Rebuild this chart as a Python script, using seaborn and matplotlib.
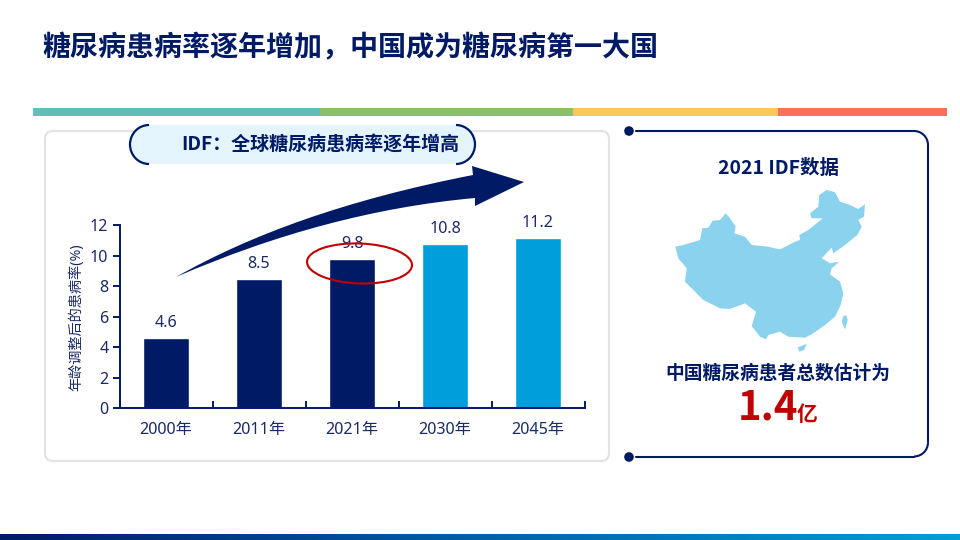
import numpy as np
import pandas as pd
import matplotlib
matplotlib.use('Agg')
import matplotlib.pyplot as plt
import seaborn as sns
from matplotlib.patches import FancyBboxPatch, Ellipse, Polygon, PathPatch, Circle, Rectangle, Arc
from matplotlib.path import Path

# 数据
years = ['2000年', '2011年', '2021年', '2030年', '2045年']
rates = [4.6, 8.5, 9.8, 10.8, 11.2]
bar_colors = ['#001A66', '#001A66', '#001A66', '#009FDB', '#009FDB']
y_ticks = [0, 2, 4, 6, 8, 10, 12]

NAVY = '#001A66'
TEXT_BLUE = '#1A2A66'
RED = '#C00000'
BOLD_FONT = ['Noto Sans CJK SC', 'DejaVu Sans']

sns.set_theme(style='white')
plt.rcParams['font.family'] = ['Noto Sans', 'Noto Sans CJK SC', 'DejaVu Sans']

fig = plt.figure(figsize=(9.6, 5.4), dpi=100)
W, H = 960, 540


def px_rect(left, top, right, bottom):
    return [left / W, 1 - bottom / H, (right - left) / W, (bottom - top) / H]


# 柱状图
ax = fig.add_axes(px_rect(119.5, 225.5, 584.5, 408))
df = pd.DataFrame({'year': years, 'rate': rates})
sns.barplot(data=df, x='year', y='rate', hue='year', palette=bar_colors,
            legend=False, width=0.505, saturation=1, ax=ax)
ax.set_xlim(-0.5, 4.5)
ax.set_ylim(0, 12)
ax.set_facecolor('none')
ax.set_xlabel('')
ax.set_ylabel('年龄调整后的患病率(%)', fontsize=10.2, color=TEXT_BLUE, labelpad=4)
sns.despine(ax=ax)
for side in ['left', 'bottom']:
    ax.spines[side].set_color(NAVY)
    ax.spines[side].set_linewidth(1.4)
ax.set_yticks(y_ticks)
ax.tick_params(axis='y', length=5, width=1.4, color=NAVY, left=True,
               labelsize=11.6, labelcolor=TEXT_BLUE, pad=3)
# x 轴主刻度在柱子之间，标签放在次刻度上
ax.set_xticks(np.arange(len(years) + 1) - 0.5)
ax.set_xticklabels([])
ax.set_xticks(np.arange(len(years)), minor=True)
ax.set_xticklabels(years, minor=True)
ax.tick_params(axis='x', which='major', direction='in', length=5, width=1.4, color=NAVY, bottom=True)
ax.tick_params(axis='x', which='minor', length=0, labelsize=11.6, labelcolor=TEXT_BLUE, pad=10)
for c in ax.containers:
    ax.bar_label(c, fmt='%.1f', padding=5, fontsize=11.6, color=TEXT_BLUE)

# 装饰层，用像素坐标
deco = fig.add_axes([0, 0, 1, 1], zorder=5)
deco.axis('off')
deco.patch.set_alpha(0)

# 顶部彩条
for x0, x1, col in [(33, 320, '#65BDBA'), (320, 573, '#8CC06A'),
                    (573, 778, '#FBC75B'), (778, 947, '#F96F5B')]:
    deco.add_patch(Rectangle((x0, 108), x1 - x0, 8, fc=col, ec='none'))

# 底部渐变条
grad = np.linspace(0, 1, 256).reshape(1, -1)
cmap = matplotlib.colors.LinearSegmentedColormap.from_list('bar', ['#001A66', '#0060A8', '#009FD6'])
deco.imshow(grad, extent=(0, W, 540, 534), aspect='auto', cmap=cmap, zorder=1)
deco.set_xlim(0, W)
deco.set_ylim(H, 0)

# 左侧卡片
deco.add_patch(FancyBboxPatch((50, 136), 554, 320, boxstyle='round,pad=5,rounding_size=8',
                              fc='none', ec='#E3E3E3', lw=1.5))

# 标题胶囊
deco.add_patch(FancyBboxPatch((130, 125), 345, 39, boxstyle='round,pad=0,rounding_size=19',
                              fc='#E3F4FC', ec='none', zorder=2))
deco.add_patch(Arc((149, 144.5), 38, 39, theta1=90, theta2=270, ec=NAVY, lw=1.6, zorder=3))
deco.add_patch(Arc((456, 144.5), 38, 39, theta1=270, theta2=90, ec=NAVY, lw=1.6, zorder=3))
deco.text(320.5, 144, 'IDF：全球糖尿病患病率逐年增高', ha='center', va='center', family=BOLD_FONT,
          fontsize=13.7, fontweight='bold', color=NAVY, zorder=4)

# 大箭头
verts = [(176, 277), (250, 235), (345, 200), (473, 175),
         (472, 166), (524, 182), (475, 206), (475, 198),
         (375, 207), (275, 234), (176, 277), (176, 277)]
codes = [Path.MOVETO, Path.CURVE4, Path.CURVE4, Path.CURVE4,
         Path.LINETO, Path.LINETO, Path.LINETO, Path.LINETO,
         Path.CURVE4, Path.CURVE4, Path.CURVE4, Path.CLOSEPOLY]
deco.add_patch(PathPatch(Path(verts, codes), fc=NAVY, ec='none', zorder=3))

# 红圈
deco.add_patch(Ellipse((359.5, 263.5), 105, 40, angle=2, fc='none', ec=RED, lw=1.5, zorder=4))

# 右侧面板
deco.plot([636, 914], [131, 131], color=NAVY, lw=1.5, solid_capstyle='round')
deco.plot([928, 928], [145, 442], color=NAVY, lw=1.5)
deco.plot([636, 914], [456.5, 456.5], color=NAVY, lw=1.5, solid_capstyle='round')
deco.add_patch(Arc((914, 145), 28, 28, theta1=270, theta2=360, ec=NAVY, lw=1.5))
deco.add_patch(Arc((914, 442.5), 28, 28, theta1=0, theta2=90, ec=NAVY, lw=1.5))
deco.add_patch(Circle((629, 131), 4.8, fc=NAVY, ec='none'))
deco.add_patch(Circle((629, 457), 4.8, fc=NAVY, ec='none'))

deco.text(778.5, 168, '2021 IDF数据', ha='center', va='center', fontsize=14, family=BOLD_FONT,
          fontweight='bold', color=NAVY)

# 中国地图轮廓（示意图形，按像素描）
map_outline = [(675.3, 246.7), (683.3, 245), (700, 240), (702.3, 228.3), (708.3, 227.7), (712.7, 220.7),
               (720, 220), (725.7, 213.3), (730, 218.3), (735.7, 226.7), (734.3, 233.3), (745, 236.7),
               (751.7, 245), (768.3, 246.7), (780, 249.5), (795, 241.7), (800, 240), (799.3, 235),
               (808.3, 230), (816.7, 223.3), (822.7, 218.3), (811.7, 218.3), (810, 213.3), (818.3, 206.7),
               (819.3, 195), (826.7, 190), (835, 192.3), (840, 201.7), (850, 205), (858.3, 209),
               (865, 204.3), (864, 216.7), (858.3, 220), (861.7, 226.7), (857.3, 235), (845, 245),
               (833.3, 253.3), (831.7, 247.7), (821.7, 258.3), (830, 263.3), (839.3, 261.7), (831.7, 268.3),
               (830, 274.3), (840, 281.7), (843.3, 293.3), (840.7, 305), (835, 316.7), (825, 325),
               (813.3, 333.3), (805, 337.7), (788.3, 336.7), (780, 331.7), (768.3, 335), (766, 339.3),
               (760, 336.7), (751.7, 326), (756, 311.7), (745, 303.3), (730, 309), (720, 308.3),
               (703.3, 300), (685, 281.7), (686.7, 268.3), (678.3, 258.3)]
taiwan = [(846, 315), (847.7, 320), (845, 329.3), (841.7, 321.7), (843, 316.7)]
hainan = [(797.7, 347.3), (806.7, 344), (804, 350), (799.3, 351.7)]
for shape in [map_outline, taiwan, hainan]:
    deco.add_patch(Polygon(shape, closed=True, fc='#8BD2EF', ec='none'))

deco.text(778, 373, '中国糖尿病患者总数估计为', ha='center', va='center', fontsize=13.5, family=BOLD_FONT,
          fontweight='bold', color=NAVY)
deco.text(768, 420, '1.4', ha='center', va='baseline', fontsize=29, fontweight='bold', color=RED,
          family=BOLD_FONT)
deco.text(807, 421, '亿', ha='center', va='baseline', fontsize=15, fontweight='bold', color=RED,
          family=BOLD_FONT)

# 大标题
deco.text(42, 48, '糖尿病患病率逐年增加，中国成为糖尿病第一大国', ha='left', va='center', family=BOLD_FONT,
          fontsize=20.2, fontweight='bold', color=NAVY)

fig.savefig('out.png', dpi=100, facecolor='white')
